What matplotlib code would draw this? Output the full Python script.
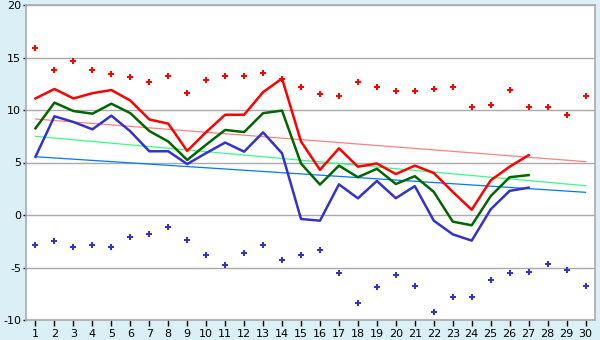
import matplotlib
matplotlib.use("Agg")
import matplotlib.pyplot as plt

plt.rcParams['axes.unicode_minus'] = False

days = list(range(1, 31))
max_pts = [15.9, 13.8, 14.7, 13.8, 13.4, 13.1, 12.7, 13.2, 11.6, 12.9,
           13.2, 13.2, 13.5, 13.0, 12.2, 11.5, 11.3, 12.7, 12.2, 11.8,
           11.8, 12.0, 12.2, 10.3, 10.5, 11.9, 10.3, 10.3, 9.5, 11.3]
min_pts = [-2.9, -2.5, -3.0, -2.9, -3.0, -2.1, -1.8, -1.1, -2.4, -3.8,
           -4.8, -3.6, -2.9, -4.3, -3.8, -3.3, -5.5, -8.4, -6.9, -5.7,
           -6.8, -9.2, -7.8, -7.8, -6.2, -5.5, -5.4, -4.7, -5.2, -6.8]
line_days = list(range(1, 28))
red_line = [11.1, 12.0, 11.1, 11.6, 11.9, 10.9, 9.1, 8.7, 6.1, 7.9,
            9.55, 9.55, 11.7, 13.0, 7.0, 4.3, 6.35, 4.6, 4.9, 3.9,
            4.7, 4.0, 2.2, 0.5, 3.3, 4.6, 5.7]
green_line = [8.25, 10.7, 9.9, 9.65, 10.6, 9.7, 8.0, 7.0, 5.24, 6.7,
              8.1, 7.9, 9.7, 9.94, 4.9, 2.9, 4.7, 3.6, 4.4, 2.95,
              3.7, 2.2, -0.63, -0.98, 1.8, 3.6, 3.8]
blue_line = [5.55, 9.4, 8.86, 8.16, 9.46, 7.97, 6.07, 6.07, 4.85, 5.9,
             6.9, 6.03, 7.87, 5.87, -0.38, -0.54, 2.92, 1.59, 3.24, 1.6,
             2.75, -0.54, -1.84, -2.44, 0.54, 2.3, 2.6]
trend_days = [1, 30]
trend_red = [9.14, 5.08]
trend_green = [7.49, 2.79]
trend_blue = [5.55, 2.16]
y_ticks = [-10, -5, 0, 5, 10, 15, 20]

fig = plt.figure(figsize=(6, 3.4), dpi=100)
fig.patch.set_facecolor('#daeff6')
ax = fig.add_axes([26/600, 20/340, (595-26)/600, (320-5)/340])
ax.set_facecolor('white')

ax.plot(trend_days, trend_red, color='#ff8080', lw=0.9, zorder=2)
ax.plot(trend_days, trend_green, color='#33ff88', lw=0.9, zorder=2)
ax.plot(trend_days, trend_blue, color='#0077ff', lw=0.9, zorder=2)

ax.plot(line_days, red_line, color='#ff0000', lw=1.8, zorder=3)
ax.plot(line_days, green_line, color='#006600', lw=1.8, zorder=3)
ax.plot(line_days, blue_line, color='#3333cc', lw=1.8, zorder=3)

ax.plot(days, max_pts, ls='none', marker='P', ms=5, color='#ff0000',
        mec='#ff0000', mew=0, zorder=4)
ax.plot(days, min_pts, ls='none', marker='P', ms=5, color='#3333cc',
        mec='#3333cc', mew=0, zorder=4)

ax.set_xlim(0.5, 30.5)
ax.set_ylim(-10, 20)
ax.set_xticks(days)
ax.set_yticks(y_ticks)
ax.yaxis.grid(True, color='#aaaaaa', lw=1)
ax.set_axisbelow(True)
for s in ax.spines.values():
    s.set_color('#aaaaaa')
    s.set_linewidth(1.2)
ax.tick_params(axis='x', colors='black', labelsize=8, length=4.5, width=1,
               direction='out', pad=2)
ax.tick_params(axis='y', colors='black', labelsize=8, length=2.5, width=1,
               direction='out', pad=1)

fig.savefig('out.png', dpi=100, facecolor=fig.get_facecolor())
